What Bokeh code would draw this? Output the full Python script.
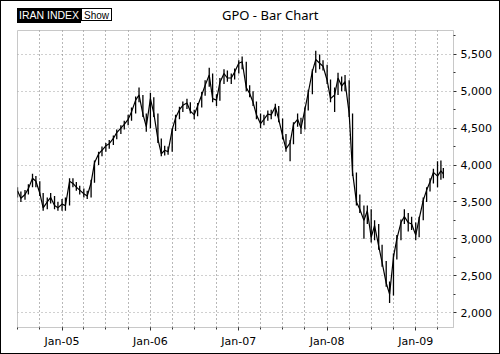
import pandas as pd
from bokeh.plotting import figure
from bokeh.layouts import column
from bokeh.models import (Range1d, FixedTicker, NumeralTickFormatter,
                          DatetimeTickFormatter, Div)
from bokeh.embed import file_html
from bokeh.resources import INLINE

# ---------------- data ----------------
dates = [
    "2004-07-01", "2004-07-15", "2004-08-01", "2004-08-15", "2004-09-01", "2004-09-15",
    "2004-10-01", "2004-10-15", "2004-11-01", "2004-11-15", "2004-12-01", "2004-12-15",
    "2005-01-01", "2005-01-15", "2005-02-01", "2005-02-15", "2005-03-01", "2005-03-15",
    "2005-04-01", "2005-04-15", "2005-05-01", "2005-05-15", "2005-06-01", "2005-06-15",
    "2005-07-01", "2005-07-15", "2005-08-01", "2005-08-15", "2005-09-01", "2005-09-15",
    "2005-10-01", "2005-10-15", "2005-11-01", "2005-11-15", "2005-12-01", "2005-12-15",
    "2006-01-01", "2006-01-15", "2006-02-01", "2006-02-15", "2006-03-01", "2006-03-15",
    "2006-04-01", "2006-04-15", "2006-05-01", "2006-05-15", "2006-06-01", "2006-06-15",
    "2006-07-01", "2006-07-15", "2006-08-01", "2006-08-15", "2006-09-01", "2006-09-15",
    "2006-10-01", "2006-10-15", "2006-11-01", "2006-11-15", "2006-12-01", "2006-12-15",
    "2007-01-01", "2007-01-15", "2007-02-01", "2007-02-15", "2007-03-01", "2007-03-15",
    "2007-04-01", "2007-04-15", "2007-05-01", "2007-05-15", "2007-06-01", "2007-06-15",
    "2007-07-01", "2007-07-15", "2007-08-01", "2007-08-15", "2007-09-01", "2007-09-15",
    "2007-10-01", "2007-10-15", "2007-11-01", "2007-11-15", "2007-12-01", "2007-12-15",
    "2008-01-01", "2008-01-15", "2008-02-01", "2008-02-15", "2008-03-01", "2008-03-15",
    "2008-04-01", "2008-04-15", "2008-05-01", "2008-05-15", "2008-06-01", "2008-06-15",
    "2008-07-01", "2008-07-15", "2008-08-01", "2008-08-15", "2008-09-01", "2008-09-15",
    "2008-10-01", "2008-10-15", "2008-11-01", "2008-11-15", "2008-12-01", "2008-12-15",
    "2009-01-01", "2009-01-15", "2009-02-01", "2009-02-15", "2009-03-01", "2009-03-15",
    "2009-04-01", "2009-04-15", "2009-04-25",
]
closes = [
    3650, 3550, 3600, 3680, 3820, 3780, 3620, 3420, 3500, 3560, 3450, 3420,
    3470, 3450, 3780, 3750, 3700, 3660, 3610, 3580, 3760, 4030, 4150, 4200,
    4260, 4290, 4360, 4440, 4500, 4550, 4620, 4720, 4880, 4950, 4690, 4520,
    4900, 4700, 4350, 4150, 4200, 4180, 4480, 4640, 4750, 4810, 4840, 4730,
    4680, 4800, 4950, 5080, 5220, 4900, 4880, 5120, 5240, 5180, 5180, 5260,
    5380, 5400, 5050, 4970, 4850, 4680, 4560, 4620, 4690, 4680, 4790, 4620,
    4400, 4220, 4300, 4550, 4620, 4500, 4750, 4980, 5270, 5430, 5380, 5340,
    5150, 4900, 4950, 5180, 5070, 5130, 4700, 3900, 3500, 3400, 3250, 3380,
    3020, 3180, 2900, 2680, 2400, 2250, 2750, 3000, 3220, 3300, 3220, 3200,
    3050, 3270, 3520, 3660, 3770, 3900, 3850, 3920, 3880,
]
highs = [
    3700, 3640, 3660, 3740, 3880, 3850, 3780, 3620, 3560, 3620, 3580, 3500,
    3540, 3560, 3820, 3820, 3770, 3720, 3680, 3650, 3800, 4060, 4180, 4250,
    4300, 4340, 4400, 4480, 4540, 4600, 4680, 4780, 4930, 5050, 4950, 4700,
    4980, 4920, 4700, 4360, 4260, 4250, 4500, 4680, 4790, 4860, 4900, 4850,
    4750, 4840, 4990, 5150, 5320, 5240, 4960, 5180, 5300, 5280, 5240, 5310,
    5420, 5470, 5400, 5080, 5000, 4860, 4700, 4680, 4740, 4750, 4830, 4800,
    4630, 4420, 4340, 4580, 4700, 4640, 4780, 5020, 5300, 5550, 5500, 5420,
    5360, 5160, 5050, 5250, 5200, 5220, 5150, 4700, 3900, 3600, 3450, 3450,
    3400, 3250, 3200, 2920, 2700, 2420, 2800, 3050, 3260, 3400, 3350, 3300,
    3220, 3300, 3560, 3700, 3820, 3950, 4050, 4060, 3960,
]
lows = [
    3560, 3500, 3530, 3600, 3700, 3700, 3580, 3380, 3400, 3480, 3400, 3380,
    3380, 3380, 3450, 3700, 3650, 3600, 3560, 3540, 3560, 3760, 4000, 4120,
    4180, 4220, 4270, 4350, 4420, 4480, 4540, 4600, 4700, 4850, 4650, 4450,
    4500, 4650, 4300, 4120, 4130, 4140, 4180, 4460, 4620, 4720, 4760, 4700,
    4620, 4660, 4780, 4940, 5060, 4850, 4800, 4870, 5100, 5130, 5100, 5160,
    5240, 5300, 5000, 4920, 4800, 4620, 4500, 4540, 4600, 4620, 4660, 4580,
    4350, 4180, 4050, 4280, 4520, 4420, 4480, 4740, 4960, 5250, 5300, 5280,
    5100, 4850, 4720, 4950, 5000, 5000, 4650, 3850, 3450, 3350, 3000, 3200,
    2950, 2980, 2850, 2620, 2350, 2130, 2230, 2720, 2980, 3200, 3100, 3120,
    2980, 3020, 3250, 3500, 3640, 3750, 3700, 3800, 3820,
]

year_ticks = ["2005-01-01", "2006-01-01", "2007-01-01", "2008-01-01", "2009-01-01"]
quarter_lines = [
    "2004-07-01", "2004-10-01",
    "2005-01-01", "2005-04-01", "2005-07-01", "2005-10-01",
    "2006-01-01", "2006-04-01", "2006-07-01", "2006-10-01",
    "2007-01-01", "2007-04-01", "2007-07-01", "2007-10-01",
    "2008-01-01", "2008-04-01", "2008-07-01", "2008-10-01",
    "2009-01-01", "2009-04-01",
]
price_ticks = [2000, 2500, 3000, 3500, 4000, 4500, 5000, 5500]
price_minor = [1750, 2250, 2750, 3250, 3750, 4250, 4750, 5250, 5750]
x_start, x_end = "2004-07-01", "2009-06-06"
y_start, y_end = 1797, 5824
index_name = "IRAN INDEX"
button_text = "Show"
chart_title = "GPO - Bar Chart"

# ---------------- header ----------------
header = Div(width=498, height=28, styles={"margin": "0", "padding": "0"}, text=(
    '<div style="position:relative;width:498px;height:28px;">'
    '<span style="position:absolute;left:16px;top:7px;height:15px;line-height:15px;'
    'padding:0 2px;background:#000;color:#fff;font-family:\'Liberation Sans\';'
    f'font-size:10.5px;white-space:nowrap;">{index_name}</span>'
    '<span style="position:absolute;left:80px;top:7px;height:13px;line-height:13px;'
    'padding:0 2px;border:1px solid #000;background:#fff;color:#000;'
    f'font-family:\'Liberation Sans\';font-size:10px;white-space:nowrap;">{button_text}</span>'
    '<span style="position:absolute;left:221px;top:6px;line-height:16px;color:#000;'
    f'font-family:\'Noto Sans\';font-size:13px;white-space:nowrap;">{chart_title}</span>'
    '</div>'))

# ---------------- figure ----------------
def ms(s):
    return pd.Timestamp(s).value / 1e6

dt = pd.to_datetime(dates)

p = figure(width=498, height=324, x_axis_type="datetime", y_axis_location="right",
           output_backend="svg", toolbar_location=None,
           x_range=Range1d(pd.Timestamp(x_start), pd.Timestamp(x_end)),
           y_range=Range1d(y_start, y_end),
           min_border_left=16, min_border_right=46, min_border_top=1, min_border_bottom=26)
p.background_fill_color = "white"
p.border_fill_color = "white"
p.outline_line_color = "#c8c8c8"
p.outline_line_width = 1

# grids
p.xgrid.ticker = FixedTicker(ticks=[ms(d) for d in quarter_lines])
p.xgrid.grid_line_color = "#333333"
p.xgrid.grid_line_dash = "1 3"
p.xgrid.grid_line_alpha = 0.7
p.ygrid.ticker = FixedTicker(ticks=price_ticks)
p.ygrid.grid_line_color = "#777777"
p.ygrid.grid_line_dash = "1 3"
p.ygrid.grid_line_alpha = 0.7

# x axis
xa = p.xaxis[0]
xa.ticker = FixedTicker(ticks=[ms(d) for d in year_ticks],
                        minor_ticks=[ms(d) for d in quarter_lines])
fmt = "%b-%y"
xa.formatter = DatetimeTickFormatter(days=fmt, months=fmt, years=fmt, hours=fmt,
                                     minutes=fmt, seconds=fmt, milliseconds=fmt,
                                     microseconds=fmt, minsec=fmt, hourmin=fmt)
xa.axis_line_color = "#c8c8c8"
xa.major_tick_line_color = "#333333"
xa.minor_tick_line_color = "#333333"
xa.major_tick_in = 0
xa.major_tick_out = 3
xa.minor_tick_in = 0
xa.minor_tick_out = 2
xa.major_label_standoff = 4
xa.major_label_text_font = "DejaVu Sans"
xa.major_label_text_font_size = "11px"
xa.major_label_text_color = "black"

# y axis (right)
ya = p.yaxis[0]
ya.ticker = FixedTicker(ticks=price_ticks, minor_ticks=price_minor)
ya.formatter = NumeralTickFormatter(format="0,0")
ya.axis_line_color = "#c8c8c8"
ya.major_tick_line_color = "#333333"
ya.minor_tick_line_color = "#333333"
ya.major_tick_in = 0
ya.major_tick_out = 3
ya.minor_tick_in = 0
ya.minor_tick_out = 2
ya.major_label_standoff = 4
ya.major_label_text_font = "DejaVu Sans"
ya.major_label_text_font_size = "11px"
ya.major_label_text_color = "black"

# bars
p.segment(x0=dt, y0=lows, x1=dt, y1=highs, line_color="black", line_width=1.3)
p.line(dt, closes, line_color="black", line_width=1.2)

layout = column(header, p, spacing=0,
                styles={"border": "1px solid black", "background": "white"})

open("out.html", "w").write(file_html(layout, INLINE))
